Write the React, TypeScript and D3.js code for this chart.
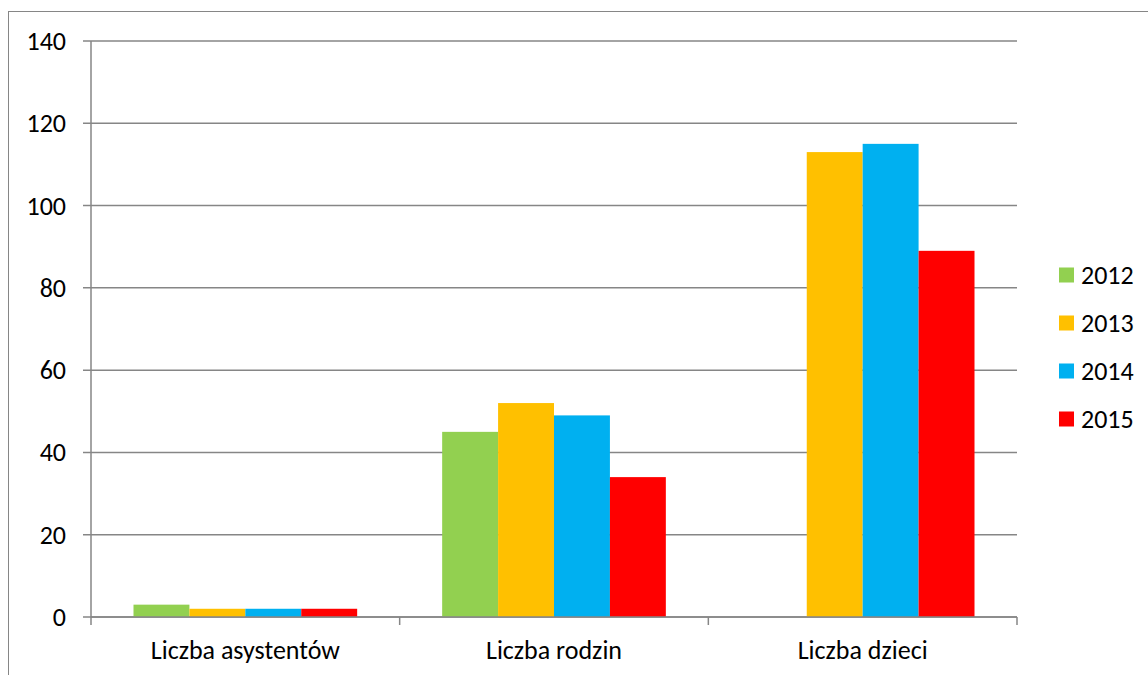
import * as d3 from "d3";

const categories = ["Liczba asystentów", "Liczba rodzin", "Liczba dzieci"];
const years = ["2012", "2013", "2014", "2015"];
const values2012 = [3, 45, 0];
const values2013 = [2, 52, 113];
const values2014 = [2, 49, 115];
const values2015 = [2, 34, 89];
const colors = ["#92D050", "#FFC000", "#00B0F0", "#FF0000"];
const yTicks = [0, 20, 40, 60, 80, 100, 120, 140];

const series = [values2012, values2013, values2014, values2015];

export default function App() {
  const width = 1148;
  const height = 675;
  const left = 91;
  const right = 1017;
  const top = 41;
  const bottom = 617;
  const font = "Carlito, Lato, sans-serif";

  const x = d3.scaleBand(categories, [left, right]).paddingInner(0).paddingOuter(0);
  const inner = d3
    .scaleBand(years, [0, x.bandwidth()])
    .paddingInner(0)
    .paddingOuter(0.76);
  const y = d3.scaleLinear([0, 140], [bottom, top]);

  const bandEdges = [...categories.map((c) => x(c)!), right];

  return (
    <svg
      width={width}
      height={height}
      style={{ position: "absolute", left: 0, top: 0, background: "#fff" }}
    >
      <rect x={8.5} y={11.5} width={1200} height={700} fill="#fff" stroke="#868686" />
      {/* gridlines */}
      <g stroke="#868686" strokeWidth={1.5}>
        {yTicks.map((t) => (
          <line key={t} x1={left - 8} x2={right} y1={y(t)} y2={y(t)} />
        ))}
        <line x1={left} x2={left} y1={top} y2={bottom} />
      </g>
      {/* bars */}
      {series.map((vals, si) => (
        <g key={years[si]} fill={colors[si]}>
          {categories.map((c, ci) =>
            vals[ci] > 0 ? (
              <rect
                key={c}
                x={x(c)! + inner(years[si])!}
                y={y(vals[ci])}
                width={inner.bandwidth()}
                height={y(0) - y(vals[ci])}
              />
            ) : null
          )}
        </g>
      ))}
      {/* x axis */}
      <g stroke="#868686" strokeWidth={1.5}>
        <line x1={left} x2={right} y1={bottom} y2={bottom} />
        {bandEdges.map((e, i) => (
          <line key={i} x1={e} x2={e} y1={bottom} y2={bottom + 8} />
        ))}
      </g>
      <g fontFamily={font} fontSize={26} fill="#000">
        {yTicks.map((t) => (
          <text key={t} x={66} y={y(t) + 9} textAnchor="end">
            {t}
          </text>
        ))}
        {categories.map((c) => (
          <text key={c} x={x(c)! + x.bandwidth() / 2} y={659} textAnchor="middle">
            {c}
          </text>
        ))}
        {years.map((yr, i) => (
          <g key={yr} transform={`translate(1059, ${275 + i * 48})`}>
            <rect x={0} y={-7.5} width={15} height={15} fill={colors[i]} />
            <text x={22} y={9}>
              {yr}
            </text>
          </g>
        ))}
      </g>
    </svg>
  );
}
